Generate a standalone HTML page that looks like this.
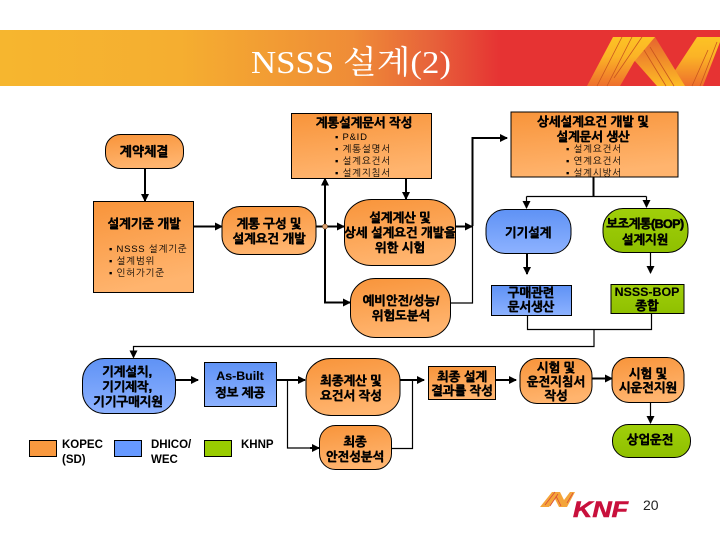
<!DOCTYPE html>
<html lang="ko"><head><meta charset="utf-8"><style>
html,body{margin:0;padding:0;background:#fff}
svg{display:block}
.s{stroke:#000;stroke-width:1}
.l{fill:none;stroke:#000;stroke-width:2}
.th{stroke-width:1.2}
.t{font-family:"Liberation Sans","NanumGothic","Noto Sans CJK KR",sans-serif;font-weight:bold;font-size:12.4px;text-anchor:middle;fill:#000;stroke:#000;stroke-width:.55}
.b{font-family:"Liberation Sans","NanumGothic","Noto Sans CJK KR",sans-serif;font-size:9.5px;fill:#000;letter-spacing:.75px}
.g{font-family:"Liberation Sans","NanumGothic","Noto Sans CJK KR",sans-serif;font-weight:bold;font-size:11.5px;fill:#000}
</style></head><body>
<svg width="720" height="540" viewBox="0 0 720 540" xmlns="http://www.w3.org/2000/svg">
<defs>
<linearGradient id="band" x1="0" x2="1" y1="0" y2="0"><stop offset="0" stop-color="#f6b62f"/><stop offset=".25" stop-color="#f5ae30"/><stop offset=".49" stop-color="#ef8c37"/><stop offset=".6" stop-color="#e7623a"/><stop offset=".695" stop-color="#e63333"/><stop offset="1" stop-color="#e63333"/></linearGradient>
<linearGradient id="o" x1="0" x2=".25" y1="0" y2="1"><stop offset="0" stop-color="#f8943a"/><stop offset="1" stop-color="#ffb46e"/></linearGradient>
<linearGradient id="u" x1="0" x2="0" y1="0" y2="1"><stop offset="0" stop-color="#5f92f5"/><stop offset="1" stop-color="#8db2ff"/></linearGradient>
<linearGradient id="n" x1="0" x2="0" y1="0" y2="1"><stop offset="0" stop-color="#a0cf0a"/><stop offset="1" stop-color="#8fc000"/></linearGradient>
<linearGradient id="r1" x1="0" x2="0" y1="1" y2="0"><stop offset="0" stop-color="#ee6f2c"/><stop offset=".6" stop-color="#fbb326"/><stop offset="1" stop-color="#fdc324"/></linearGradient>
<linearGradient id="r2" x1="0" x2="0" y1="0" y2="1"><stop offset="0" stop-color="#e5632f"/><stop offset="1" stop-color="#fdbb25"/></linearGradient>
<marker id="a" markerWidth="9" markerHeight="9" refX="7" refY="4" orient="auto" markerUnits="userSpaceOnUse"><path d="M0 0L8 4L0 8Z" fill="#000"/></marker>
</defs>

<!-- title band -->
<rect x="0" y="30" width="720" height="56" fill="url(#band)"/>
<polygon points="672,75 697,37 720,37 720,42 703,86 685,86" fill="url(#r1)"/>
<polygon points="636,45 655,37 685,86 657,86 634,60" fill="url(#r2)"/>
<polygon points="587,86 613,37 655,37 634,62 620,86" fill="url(#r1)"/>
<g fill="none" stroke="#c9561f" stroke-width=".8"><path d="M597 86L622 37M607 86L632 37M614 78L642 37M644 50L666 86M650 47L674 86M692 86L708 50M700 86L717 42"/></g>
<text x="351" y="73" font-family="'Liberation Serif','Noto Serif CJK KR','Noto Serif CJK SC',serif" font-size="32" fill="#fff" text-anchor="middle" textLength="200" lengthAdjust="spacingAndGlyphs">NSSS 설계(2)</text>

<!-- connectors -->
<g class="l">
<path d="M145 168V201" marker-end="url(#a)"/>
<path d="M193.500 226.500H222" marker-end="url(#a)"/>
<path d="M316 226.500H344" marker-end="url(#a)"/>
<path d="M325 226.500V178.500" marker-end="url(#a)"/>
<path d="M325 226.500V302.500H350" marker-end="url(#a)"/>
<path d="M406 178V199" marker-end="url(#a)"/>
<path d="M456 226.500H472" marker-end="url(#a)"/>
<path d="M472.500 226V138H507" marker-end="url(#a)"/>
<path class="th" d="M450 303H472.500V226"/>
<path d="M593.500 177V196.500"/>
<path class="th" d="M526.500 196.500H646.500"/>
<path class="th" d="M526.500 196.500V208" marker-end="url(#a)"/>
<path class="th" d="M646.500 196.500V207" marker-end="url(#a)"/>
<path d="M527 253V274" marker-end="url(#a)"/>
<path class="th" d="M650.500 252V273" marker-end="url(#a)"/>
<path class="th" d="M527.500 315V329.500H651.500V313"/>
<path class="th" d="M594 329.500V346.500H133.500V357.500" marker-end="url(#a)"/>
<path d="M175 380H198" marker-end="url(#a)"/>
<path d="M277 380H305" marker-end="url(#a)"/>
<path class="th" d="M287.500 380V448H319"/>
<path d="M310 448H319" marker-end="url(#a)"/>
<path d="M400 380H424" marker-end="url(#a)"/>
<path class="th" d="M391 448.500H412.500V380"/>
<path d="M496 380H516" marker-end="url(#a)"/>
<path d="M592 378.500H612" marker-end="url(#a)"/>
<path class="th" d="M650.500 402V423" marker-end="url(#a)"/>
</g>
<circle cx="325" cy="226.500" r="2.500" fill="#d9a070" stroke="#7a4a20" stroke-width=".6"/>

<!-- orange nodes -->
<g class="s" fill="url(#o)">
<rect x="105.500" y="134.500" width="78" height="34" rx="15"/>
<rect x="93.500" y="201.500" width="100" height="91"/>
<rect x="222" y="206.500" width="94" height="48" rx="18"/>
<rect x="291.500" y="113.500" width="140" height="65"/>
<rect x="511" y="112" width="167" height="65"/>
<rect x="344.500" y="199.500" width="111" height="66" rx="27" ry="24"/>
<rect x="350.500" y="278.500" width="100" height="59" rx="25" ry="23"/>
<rect x="306" y="358.500" width="94" height="57" rx="25" ry="22"/>
<rect x="319.500" y="425.500" width="72" height="44" rx="16"/>
<rect x="428.500" y="366.500" width="67" height="33"/>
<rect x="520" y="358.500" width="72" height="45" rx="17"/>
<rect x="612" y="357.500" width="72" height="45" rx="17"/>
<rect x="29.500" y="440.500" width="27" height="16" fill="#f9993f"/>
</g>
<!-- blue nodes -->
<g class="s" fill="url(#u)">
<rect x="486" y="209.500" width="85" height="44" rx="19"/>
<rect x="491.500" y="285.500" width="80" height="30"/>
<rect x="82.500" y="358.500" width="93" height="55" rx="22"/>
<rect x="204.500" y="362.500" width="72" height="44"/>
<rect x="114.500" y="440.500" width="27" height="16" fill="#6699ff"/>
</g>
<!-- green nodes -->
<g class="s" fill="url(#n)">
<rect x="603" y="208.500" width="85" height="44" rx="20"/>
<rect x="611" y="284.500" width="73" height="29"/>
<rect x="612.500" y="424.500" width="78" height="33" rx="16"/>
<rect x="204.500" y="440.500" width="27" height="16" fill="#99cc00"/>
</g>

<!-- labels -->
<text class="t" x="144" y="156" style="font-size:13px">계약체결</text>
<text class="t" x="144" y="228">설계기준 개발</text>
<text class="b" x="109" y="252">▪ NSSS 설계기준</text>
<text class="b" x="109" y="264">▪ 설계범위</text>
<text class="b" x="109" y="276">▪ 인허가기준</text>
<text class="t" x="269" y="228">계통 구성 및</text>
<text class="t" x="269" y="243">설계요건 개발</text>
<text class="t" x="364" y="127">계통설계문서 작성</text>
<text class="b" x="335" y="140">▪ P&amp;ID</text>
<text class="b" x="335" y="152">▪ 계통설명서</text>
<text class="b" x="335" y="164">▪ 설계요건서</text>
<text class="b" x="335" y="176">▪ 설계지침서</text>
<text class="t" x="593" y="126">상세설계요건 개발 및</text>
<text class="t" x="593" y="141">설계문서 생산</text>
<text class="b" x="566" y="152">▪ 설계요건서</text>
<text class="b" x="566" y="164">▪ 연계요건서</text>
<text class="b" x="566" y="176">▪ 설계시방서</text>
<text class="t" x="400" y="222">설계계산 및</text>
<text class="t" x="400" y="237">상세 설계요건 개발을</text>
<text class="t" x="400" y="252">위한 시험</text>
<text class="t" x="401" y="305">예비안전/성능/</text>
<text class="t" x="401" y="320">위험도분석</text>
<text class="t" x="528" y="237">기기설계</text>
<text class="t" x="645" y="228" style="letter-spacing:-.5px">보조계통(BOP)</text>
<text class="t" x="645" y="244">설계지원</text>
<text class="t" x="531" y="297">구매관련</text>
<text class="t" x="531" y="311">문서생산</text>
<text class="t" x="647" y="296" style="stroke-width:.1px">NSSS-BOP</text>
<text class="t" x="647" y="310">종합</text>
<text class="t" x="127" y="376">기계설치,</text>
<text class="t" x="127" y="391">기기제작,</text>
<text class="t" x="128" y="406">기기구매지원</text>
<text class="t" x="240" y="380" style="stroke-width:.1px">As-Built</text>
<text class="t" x="240" y="397">정보 제공</text>
<text class="t" x="351" y="385">최종계산 및</text>
<text class="t" x="351" y="400">요건서 작성</text>
<text class="t" x="355" y="446">최종</text>
<text class="t" x="355" y="461">안전성분석</text>
<text class="t" x="462" y="381">최종 설계</text>
<text class="t" x="462" y="395">결과를 작성</text>
<text class="t" x="556" y="372">시험 및</text>
<text class="t" x="556" y="386">운전지침서</text>
<text class="t" x="556" y="400">작성</text>
<text class="t" x="648" y="378">시험 및</text>
<text class="t" x="648" y="392">시운전지원</text>
<text class="t" x="650" y="444">상업운전</text>

<text class="g" x="62" y="448">KOPEC</text>
<text class="g" x="62" y="463">(SD)</text>
<text class="g" x="151" y="448">DHICO/</text>
<text class="g" x="151" y="463">WEC</text>
<text class="g" x="241" y="448">KHNP</text>

<!-- logo -->
<polygon points="540,507 552,492 560,492 564,500 570,492 575,492 567,507 559,507 555,499 549,507" fill="#f4a53a"/>
<g fill="none" stroke="#d94a3a" stroke-width=".8"><path d="M545 505L555 492M550 506L558 494M556 496L561 506M567 503L573 493"/></g>
<text x="573" y="517" font-family="'Liberation Sans',sans-serif" font-weight="bold" font-style="italic" font-size="22" fill="#c8103c" stroke="#c8103c" stroke-width=".6" textLength="55" lengthAdjust="spacingAndGlyphs">KNF</text>
<text x="643" y="510" font-family="'Liberation Sans',sans-serif" font-size="14" fill="#222">20</text>
</svg>
</body></html>
